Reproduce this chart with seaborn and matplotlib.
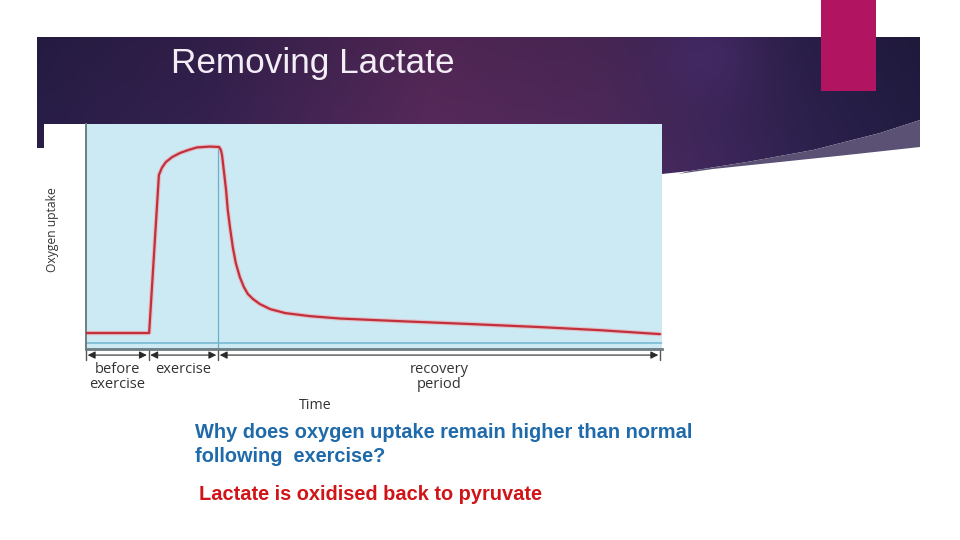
import numpy as np
import pandas as pd
import matplotlib
matplotlib.use("Agg")
import matplotlib.pyplot as plt
import seaborn as sns
from matplotlib.patches import Polygon, Rectangle
from matplotlib.transforms import blended_transform_factory

# ---------------- data ----------------
time_pts = [0, 11.0, 12.7, 13.2, 13.9, 15.0, 16.4, 17.8, 19.3, 21.6, 23.2, 23.5,
            23.7, 24.0, 24.4, 24.7, 25.1, 25.6, 26.1, 26.8, 27.5, 28.2, 29.1,
            30.3, 32.1, 34.7, 39.0, 44.3, 54.7, 66.9, 79.1, 89.5, 100]
oxygen_uptake = [4.6, 4.6, 76.7, 79.9, 82.6, 84.9, 86.8, 88.1, 89.3, 89.7, 89.5,
                 88.1, 85.8, 79.0, 69.9, 60.7, 52.5, 43.4, 36.5, 30.1, 25.6,
                 22.4, 20.1, 17.8, 15.5, 13.7, 12.3, 11.2, 10.0, 8.7, 7.3, 5.9,
                 4.1]
phase_bounds = [0, 10.9, 23.0, 100]
phase_labels = ["before\nexercise", "exercise", "recovery\nperiod"]
exercise_end = 23.0
exercise_peak = 89.5
resting_level = 0

title_text = "Removing Lactate"
question_lines = ["Why does oxygen uptake remain higher than normal",
                  "following  exercise?"]
answer_text = "Lactate is oxidised back to pyruvate"

df = pd.DataFrame({"Time": time_pts, "Oxygen uptake": oxygen_uptake})

# ---------------- style ----------------
sns.set_theme(style="white")
plt.rcParams['font.family'] = ['Liberation Sans', 'DejaVu Sans']

fig = plt.figure(figsize=(9.6, 5.4), dpi=100)
fig.patch.set_facecolor("white")

bg = fig.add_axes([0, 0, 1, 1], zorder=0)
bg.set_xlim(0, 960)
bg.set_ylim(540, 0)
bg.axis("off")

# banner gradient
W, H = 884, 140
xs = np.linspace(37, 920, W)
ys = np.linspace(37, 177, H)
X, Y = np.meshgrid(xs, ys)
kx = [37, 200, 430, 600, 720, 820, 920]
kc = np.array([[0x2a, 0x1f, 0x4a], [0x36, 0x22, 0x52], [0x5a, 0x2b, 0x5e],
               [0x50, 0x2a, 0x5d], [0x3e, 0x27, 0x5c], [0x2c, 0x21, 0x4e],
               [0x23, 0x1d, 0x44]]) / 255.0
img = np.zeros((H, W, 3))
for c in range(3):
    img[:, :, c] = np.interp(X, kx, kc[:, c])
img *= (0.88 + 0.12 * (Y - 37) / 140)[:, :, None]
g = np.exp(-(((X - 705) / 55) ** 2 + ((Y - 55) / 45) ** 2))
glow = np.array([0x4a, 0x2d, 0x70]) / 255.0
img = img * (1 - 0.5 * g[:, :, None]) + glow * 0.5 * g[:, :, None]
img = np.clip(img, 0, 1)

banner_pts = [(37, 37), (920, 37), (920, 120), (880, 133), (813, 150), (747, 162),
              (690, 171), (662, 174), (44, 174), (44, 148), (37, 148)]
banner = Polygon(banner_pts, closed=True, fc="none", ec="none",
                 transform=bg.transData)
bg.add_patch(banner)
im = bg.imshow(img, extent=(37, 920, 177, 37), origin="upper", aspect="auto",
               zorder=1, interpolation="bilinear")
im.set_clip_path(banner)
bg.set_xlim(0, 960)
bg.set_ylim(540, 0)

swoosh = [(920, 120), (880, 133), (813, 150), (747, 162), (690, 171), (678, 174),
          (713, 169), (780, 162), (847, 155), (920, 147)]
bg.add_patch(Polygon(swoosh, closed=True, fc="#5a5174", ec="none", zorder=2))

bg.add_patch(Rectangle((821, 0), 55, 91, fc="#b11461", ec="none", zorder=3))

# white chart image background
bg.add_patch(Rectangle((44, 124), 618, 291, fc="white", ec="none", zorder=3))

bg.text(171, 64, title_text, fontsize=25.3, color="#f3eef6", va="center",
        ha="left", zorder=4)
bg.text(195, 432, question_lines[0], fontsize=14.4, fontweight="bold",
        color="#1f6aaa", va="center", ha="left", zorder=4)
bg.text(195, 456, question_lines[1], fontsize=14.4, fontweight="bold",
        color="#1f6aaa", va="center", ha="left", zorder=4)
bg.text(199, 494, answer_text, fontsize=14.4, fontweight="bold",
        color="#d01418", va="center", ha="left", zorder=4)

# ---------------- chart ----------------
ax = fig.add_axes([86 / 960, (540 - 349) / 540, 576 / 960, 225 / 540], zorder=2)
ax.set_facecolor("#cceaf3")
ax.set_xlim(0, 100.35)
ax.set_ylim(-2.7, 100)

ax.axhline(resting_level, color="#72b5cf", lw=1.1, zorder=1)
ax.plot([exercise_end, exercise_end], [-2.7, exercise_peak], color="#6aaecb",
        lw=0.9, zorder=1)

sns.lineplot(data=df, x="Time", y="Oxygen uptake", ax=ax, color="#f2a0a8",
             lw=3.2, estimator=None, sort=False, zorder=2, alpha=0.55)
sns.lineplot(data=df, x="Time", y="Oxygen uptake", ax=ax, color="#c2303c",
             lw=1.6, estimator=None, sort=False, zorder=3)

ax.set_xticks([])
ax.set_yticks([])
ax.set_xlabel("")
ax.set_ylabel("")
for s in ["top", "right"]:
    ax.spines[s].set_visible(False)
ax.spines["left"].set_color("#6f7c80")
ax.spines["left"].set_linewidth(1.4)
ax.spines["bottom"].set_color("#6f7c80")
ax.spines["bottom"].set_linewidth(2.0)

tr = blended_transform_factory(ax.transData, ax.transAxes)
chart_font = ['Open Sans', 'DejaVu Sans']
for b in phase_bounds:
    ax.plot([b, b], [0, -0.05], transform=tr, color="#555555", lw=1.0,
            clip_on=False)
for a, b, lab in zip(phase_bounds[:-1], phase_bounds[1:], phase_labels):
    ax.annotate("", xy=(a + 0.3, -0.027), xytext=(b - 0.3, -0.027),
                xycoords=tr, textcoords=tr,
                arrowprops=dict(arrowstyle="<|-|>", color="#2a2a2a", lw=0.8,
                                mutation_scale=11, shrinkA=0, shrinkB=0))
    ax.text((a + b) / 2, -0.058, lab, transform=tr, ha="center", va="top",
            fontsize=10.5, color="#333333", family=chart_font, linespacing=1.0)

ax.text(40, -0.25, "Time", transform=tr, ha="center", va="center",
        fontsize=10.3, color="#333333", family=chart_font)
ax.text(-0.058, 0.53, "Oxygen uptake", transform=ax.transAxes, rotation=90,
        ha="center", va="center", fontsize=8.7, color="#333333",
        family=chart_font)

fig.savefig("out.png", dpi=100)
